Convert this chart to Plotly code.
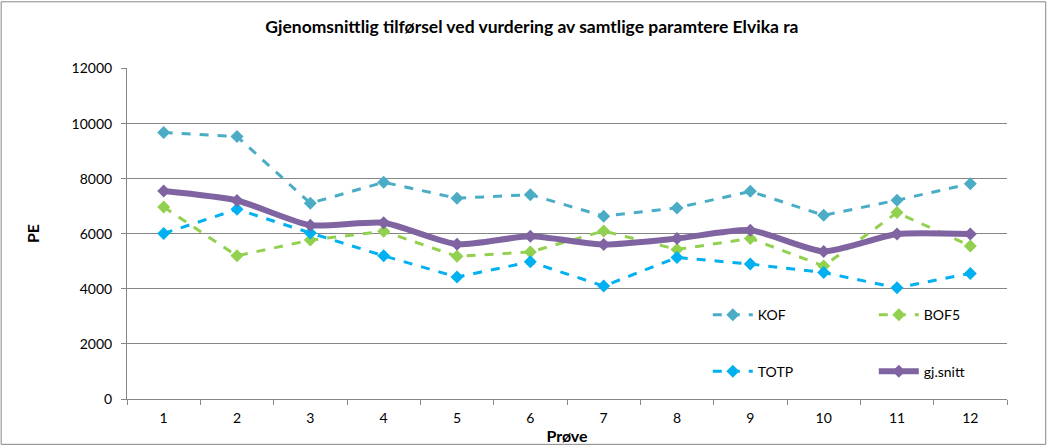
import plotly.graph_objects as go

categories = ["1", "2", "3", "4", "5", "6", "7", "8", "9", "10", "11", "12"]
kof = [9680, 9530, 7110, 7870, 7290, 7420, 6640, 6940, 7540, 6670, 7220, 7820]
bof5 = [6970, 5200, 5770, 6090, 5180, 5340, 6100, 5430, 5830, 4830, 6770, 5560]
totp = [6010, 6890, 6030, 5200, 4430, 4980, 4100, 5140, 4900, 4590, 4040, 4560]
gjsnitt = [7550, 7210, 6310, 6400, 5620, 5910, 5610, 5830, 6130, 5360, 5990, 5990]
yticks = [0, 2000, 4000, 6000, 8000, 10000, 12000]

FONT = "Lato, Open Sans, sans-serif"

fig = go.Figure()

def dashed(name, y, color, legend):
    fig.add_trace(go.Scatter(
        x=categories, y=y, name=name, mode="lines+markers",
        line=dict(color=color, width=3, dash="dash"),
        marker=dict(symbol="diamond", size=10, color=color),
        legend=legend,
    ))

dashed("KOF", kof, "#4BACC6", "legend")
dashed("BOF5", bof5, "#92D050", "legend")
dashed("TOTP", totp, "#00B0F0", "legend2")
fig.add_trace(go.Scatter(
    x=categories, y=gjsnitt, name="gj.snitt", mode="lines+markers",
    line=dict(color="#8064A2", width=6, shape="spline", smoothing=0.6),
    marker=dict(symbol="diamond", size=10, color="#8064A2"),
    legend="legend2",
))

legend_common = dict(
    orientation="h", entrywidth=111, entrywidthmode="pixels",
    font=dict(family=FONT, size=14, color="#000000"),
    bgcolor="rgba(0,0,0,0)", xanchor="left", yanchor="middle",
    itemwidth=40,
)

fig.update_layout(
    width=1047, height=445,
    margin=dict(l=127, r=40, t=68, b=46, autoexpand=False),
    paper_bgcolor="white", plot_bgcolor="white",
    title=dict(text="<b>Gjenomsnittlig tilførsel ved vurdering av samtlige paramtere Elvika ra</b>",
               x=0.508, xref="container", xanchor="center", y=0.94, yanchor="middle",
               font=dict(family=FONT, size=17.5, color="#000000")),
    font=dict(family=FONT, size=14, color="#000000"),
    legend=dict(x=0.66, y=0.253, **legend_common),
    legend2=dict(x=0.66, y=0.083, **legend_common),
    xaxis=dict(
        type="category", range=[-0.5, 11.5], tickson="boundaries", ticks="outside", ticklen=5,
        tickcolor="#868686", showline=True, linecolor="#868686", linewidth=1,
        showgrid=False, tickfont=dict(family=FONT, size=14), ticklabelstandoff=6,
        title=dict(text="<b>Prøve</b>", font=dict(family=FONT, size=16), standoff=10),
    ),
    yaxis=dict(
        range=[0, 12020], tickvals=yticks, tickformat="d", ticks="outside", ticklen=5,
        tickcolor="#868686", showline=True, linecolor="#868686", linewidth=1,
        showgrid=True, gridcolor="#868686", gridwidth=1, zeroline=False,
        tickfont=dict(family=FONT, size=14), ticklabelstandoff=6,
        title=dict(text="<b>PE</b>", font=dict(family=FONT, size=16), standoff=27),
    ),
    shapes=[dict(type="rect", xref="paper", yref="paper", x0=-0.143, x1=1.044,
                 y0=-0.137, y1=1.2, line=dict(color="#868686", width=1))],
)

fig.write_html("out.html", config={"displayModeBar": False},
               post_script="document.body.style.margin='0';")
